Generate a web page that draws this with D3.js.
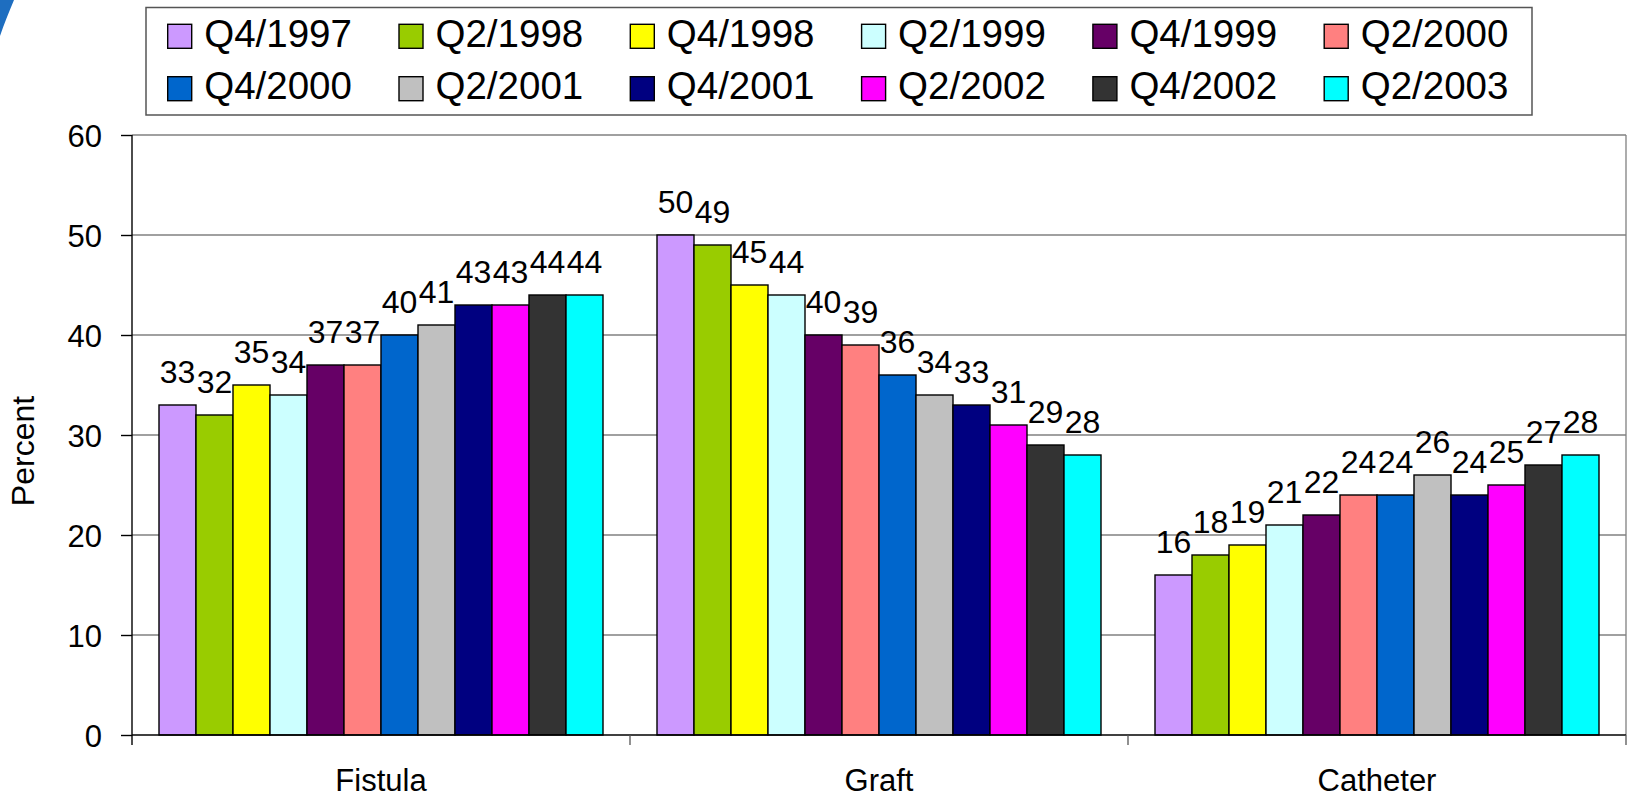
<!DOCTYPE html>
<html>
<head>
<meta charset="utf-8">
<script src="https://cdn.jsdelivr.net/npm/d3@7/dist/d3.min.js"></script>
<style>
  html, body { margin: 0; padding: 0; background: #ffffff; }
  svg { display: block; font-family: "Liberation Sans", Arial, sans-serif; }
</style>
</head>
<body>
<svg id="chart" width="1631" height="799"></svg>
<script>
// Vascular access type by survey period (percent of patients)
const categories = ["Fistula", "Graft", "Catheter"];
const periods = ["Q4/1997", "Q2/1998", "Q4/1998", "Q2/1999", "Q4/1999", "Q2/2000",
                 "Q4/2000", "Q2/2001", "Q4/2001", "Q2/2002", "Q4/2002", "Q2/2003"];
const fistula  = [33, 32, 35, 34, 37, 37, 40, 41, 43, 43, 44, 44];
const graft    = [50, 49, 45, 44, 40, 39, 36, 34, 33, 31, 29, 28];
const catheter = [16, 18, 19, 21, 22, 24, 24, 26, 24, 25, 27, 28];
const colors = ["#CC99FF", "#99CC00", "#FFFF00", "#CCFFFF", "#660066", "#FF8080",
                "#0066CC", "#C0C0C0", "#000080", "#FF00FF", "#333333", "#00FFFF"];
const yTicks = [0, 10, 20, 30, 40, 50, 60];
const yLabel = "Percent";

const seriesByCategory = [fistula, graft, catheter];

const svg = d3.select("#chart");

// decorative corner swoosh
svg.append("path")
  .attr("d", "M0,0 L14,0 C9,12 4,24 0,36 Z")
  .attr("fill", "#1E6EC0");

const plot = { left: 132, right: 1626, top: 135, bottom: 735 };

const x0 = d3.scaleBand().domain(categories).range([plot.left, plot.right]).padding(0);
const groupPad = 27;
const x1 = d3.scaleBand().domain(periods)
  .range([groupPad, x0.bandwidth() - groupPad]).padding(0);
const y = d3.scaleLinear().domain([0, 60]).range([plot.bottom, plot.top]);
const color = d3.scaleOrdinal().domain(periods).range(colors);

// horizontal gridlines
svg.append("g")
  .selectAll("line")
  .data(yTicks.filter(t => t > 0))
  .join("line")
  .attr("x1", plot.left).attr("x2", plot.right)
  .attr("y1", d => y(d)).attr("y2", d => y(d))
  .attr("stroke", "#808080").attr("stroke-width", 1.3);

// plot area right border
svg.append("line")
  .attr("x1", plot.right).attr("x2", plot.right)
  .attr("y1", plot.top).attr("y2", plot.bottom)
  .attr("stroke", "#808080").attr("stroke-width", 1.3);

// bars
const groups = svg.append("g")
  .selectAll("g")
  .data(categories.map((c, i) => ({ cat: c, vals: seriesByCategory[i] })))
  .join("g")
  .attr("transform", d => `translate(${x0(d.cat)},0)`);

groups.selectAll("rect")
  .data(d => d.vals.map((v, j) => ({ period: periods[j], v })))
  .join("rect")
  .attr("x", d => x1(d.period))
  .attr("y", d => y(d.v))
  .attr("width", x1.bandwidth())
  .attr("height", d => y(0) - y(d.v))
  .attr("fill", d => color(d.period))
  .attr("stroke", "#000")
  .attr("stroke-width", 1.4);

// value labels
groups.selectAll("text")
  .data(d => d.vals.map((v, j) => ({ period: periods[j], v })))
  .join("text")
  .attr("x", d => x1(d.period) + x1.bandwidth() / 2)
  .attr("y", d => y(d.v) - 22)
  .attr("text-anchor", "middle")
  .attr("font-size", 32)
  .attr("fill", "#000")
  .text(d => d.v);

// y axis
const yAxis = d3.axisLeft(y).tickValues(yTicks).tickSize(11).tickPadding(19);
const gy = svg.append("g").attr("transform", `translate(${plot.left},0)`).call(yAxis);
gy.select(".domain").attr("d", `M0,${plot.top}V${plot.bottom + 10}`)
  .attr("stroke", "#000").attr("stroke-width", 1.4);
gy.selectAll(".tick line").attr("stroke", "#000").attr("stroke-width", 1.4);
gy.selectAll(".tick text").attr("font-size", 31).attr("fill", "#000")
  .attr("font-family", "Liberation Sans, Arial, sans-serif").attr("dy", "0.36em");

// category axis
const gx = svg.append("g").attr("transform", `translate(0,${plot.bottom})`);
gx.append("line")
  .attr("x1", plot.left).attr("x2", plot.right)
  .attr("y1", 0).attr("y2", 0)
  .attr("stroke", "#000").attr("stroke-width", 1.4);
const boundaries = categories.map(c => x0(c)).concat([x0(categories[categories.length - 1]) + x0.bandwidth()]);
gx.selectAll("line.sep")
  .data(boundaries.slice(1))
  .join("line")
  .attr("class", "sep")
  .attr("x1", d => d).attr("x2", d => d)
  .attr("y1", 0).attr("y2", 10)
  .attr("stroke", "#555").attr("stroke-width", 1.3);
gx.selectAll("text")
  .data(categories)
  .join("text")
  .attr("x", d => x0(d) + x0.bandwidth() / 2)
  .attr("y", 56)
  .attr("text-anchor", "middle")
  .attr("font-size", 31)
  .attr("fill", "#000")
  .text(d => d);

// y axis title
svg.append("text")
  .attr("transform", "translate(34,451) rotate(-90)")
  .attr("text-anchor", "middle")
  .attr("font-size", 32)
  .attr("fill", "#000")
  .text(yLabel);

// legend
const legend = svg.append("g");
legend.append("rect")
  .attr("x", 146).attr("y", 7.5)
  .attr("width", 1386).attr("height", 107.5)
  .attr("fill", "#fff")
  .attr("stroke", "#555").attr("stroke-width", 1.5);

const colW = 231.3, rowH = 52.4;
const items = legend.selectAll("g.item")
  .data(periods)
  .join("g")
  .attr("class", "item")
  .attr("transform", (d, i) => `translate(${167.7 + (i % 6) * colW},${24.3 + Math.floor(i / 6) * rowH})`);
items.append("rect")
  .attr("width", 24).attr("height", 24)
  .attr("fill", d => color(d))
  .attr("stroke", "#000").attr("stroke-width", 1.4);
items.append("text")
  .attr("x", 36.5).attr("y", 22.7)
  .attr("font-size", 38.5)
  .attr("fill", "#000")
  .text(d => d);
</script>
</body>
</html>
